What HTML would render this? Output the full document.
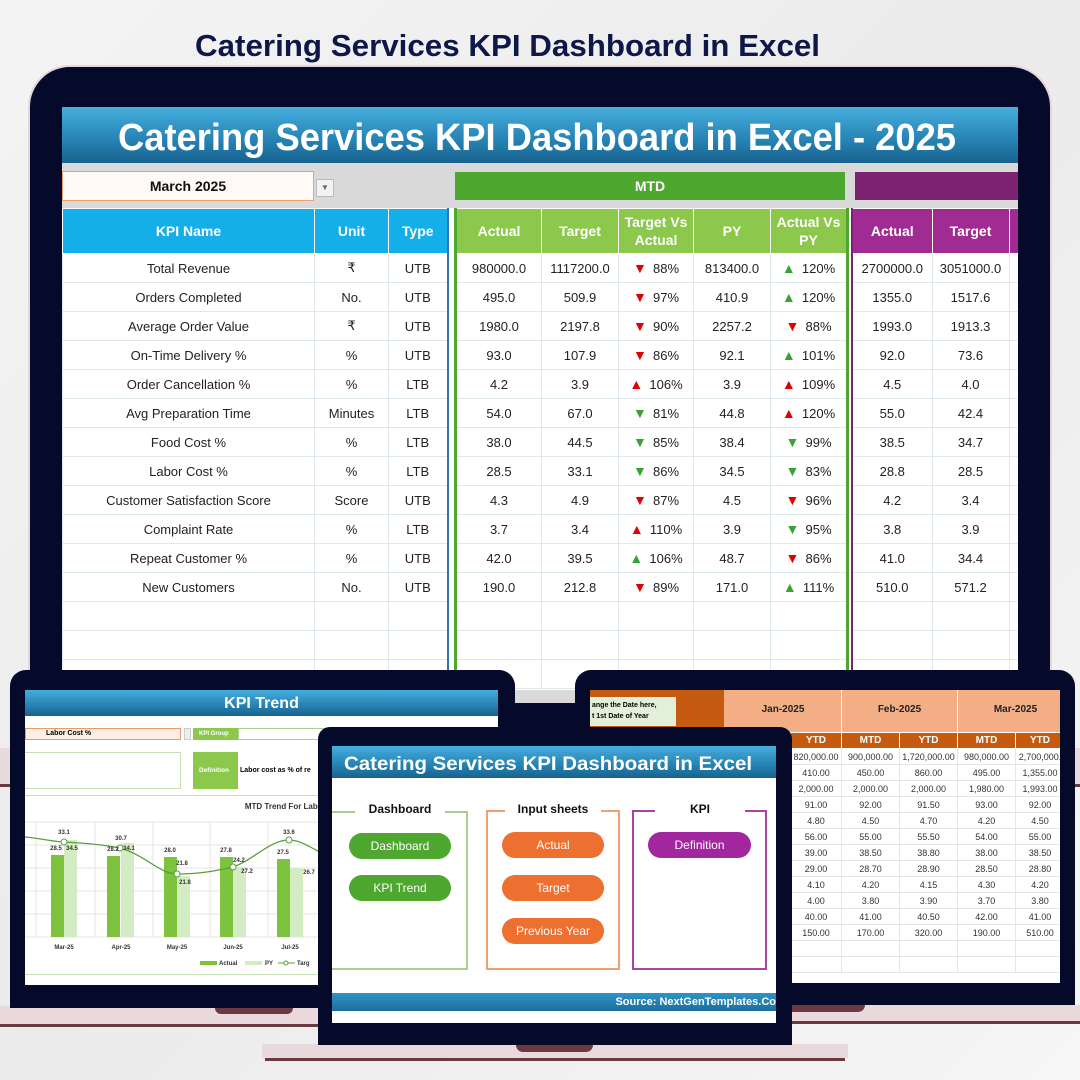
<!DOCTYPE html>
<html><head><meta charset="utf-8">
<style>
*{margin:0;padding:0;box-sizing:border-box}
body{width:1080px;height:1080px;overflow:hidden;background:linear-gradient(135deg,#f4f4f4,#ebebeb 50%,#f6f6f6);font-family:"Liberation Sans",sans-serif;position:relative}
.a{position:absolute}
table{border-collapse:collapse;table-layout:fixed;position:absolute}
td{text-align:center;font-size:13px;color:#222;border:1px solid #dde8ef;height:29px;white-space:nowrap;overflow:hidden}
th{color:#fff;font-size:14px;font-weight:bold;height:45px;border:1px solid #fff;line-height:1.3}
.dn{color:#e00000;font-size:13px}.upg{color:#3aa232}.upr{color:#e00000}
.ar{display:inline-block;width:20px;text-align:left;font-size:14px}
.btn{position:absolute;height:26px;border-radius:13px;color:#fff;font-size:12px;text-align:center;line-height:26px}
.rt td{height:16px;font-size:9px;color:#333;border:1px solid #e6e6e6}
</style></head><body>

<!-- top title -->
<svg class="a" style="left:0;top:0" width="1080" height="70"><text x="195" y="56" textLength="625" lengthAdjust="spacingAndGlyphs" font-family="Liberation Sans Narrow, Liberation Sans, sans-serif" font-weight="bold" font-size="31" fill="#0d1848">Catering Services KPI Dashboard in Excel</text></svg>

<!-- main monitor base band -->
<div class="a" style="left:0;top:748px;width:1080px;height:36px;background:#e9dadd"></div>
<div class="a" style="left:0;top:784px;width:1080px;height:3px;background:#6b3a40"></div>

<!-- main monitor -->
<div class="a" style="left:28px;top:65px;width:1024px;height:690px;border-radius:42px;background:#050a2b;border:2px solid #e6d6da"></div>
<div class="a" style="left:62px;top:107px;width:956px;height:596px;background:#d9d9d9"></div>
<div class="a" style="left:62px;top:107px;width:956px;height:56px;background:linear-gradient(#45aedc,#2682b3 60%,#18628e)"></div>
<svg class="a" style="left:62px;top:107px" width="956" height="56"><text x="56" y="43" textLength="838" lengthAdjust="spacingAndGlyphs" font-family="Liberation Sans, sans-serif" font-weight="bold" font-size="38" fill="#fff">Catering Services KPI Dashboard in Excel - 2025</text></svg>
<div class="a" style="left:62px;top:171px;width:252px;height:30px;background:#fffaf6;border:1px solid #f0a070;font-weight:bold;font-size:14px;text-align:center;line-height:28px;color:#111">March 2025</div>
<div class="a" style="left:316px;top:179px;width:18px;height:18px;background:#f2f2f2;border:1px solid #bbb;font-size:8px;text-align:center;line-height:16px;color:#666">▼</div>
<div class="a" style="left:455px;top:172px;width:390px;height:28px;background:#4ea72e;color:#fff;font-weight:bold;font-size:14px;text-align:center;line-height:28px">MTD</div>
<div class="a" style="left:855px;top:172px;width:163px;height:28px;background:#7b2270"></div>

<!-- white table area -->
<div class="a" style="left:62px;top:208px;width:956px;height:482px;background:#fff"></div>

<table style="left:62px;top:208px;width:385px;border-right:2px solid #2e75b6">
<colgroup><col style="width:252px"><col style="width:74px"><col style="width:59px"></colgroup>
<tr style="background:#14aee8"><th>KPI Name</th><th>Unit</th><th>Type</th></tr>
<tr><td>Total Revenue</td><td>₹</td><td>UTB</td></tr>
<tr><td>Orders Completed</td><td>No.</td><td>UTB</td></tr>
<tr><td>Average Order Value</td><td>₹</td><td>UTB</td></tr>
<tr><td>On-Time Delivery %</td><td>%</td><td>UTB</td></tr>
<tr><td>Order Cancellation %</td><td>%</td><td>LTB</td></tr>
<tr><td>Avg Preparation Time</td><td>Minutes</td><td>LTB</td></tr>
<tr><td>Food Cost %</td><td>%</td><td>LTB</td></tr>
<tr><td>Labor Cost %</td><td>%</td><td>LTB</td></tr>
<tr><td>Customer Satisfaction Score</td><td>Score</td><td>UTB</td></tr>
<tr><td>Complaint Rate</td><td>%</td><td>LTB</td></tr>
<tr><td>Repeat Customer %</td><td>%</td><td>UTB</td></tr>
<tr><td>New Customers</td><td>No.</td><td>UTB</td></tr>
<tr><td></td><td></td><td></td></tr><tr><td></td><td></td><td></td></tr><tr><td></td><td></td><td></td></tr>
</table>

<table style="left:454px;top:208px;width:392px;border-left:3px solid #4ea72e;border-right:3px solid #4ea72e">
<colgroup><col style="width:86px"><col style="width:77px"><col style="width:75px"><col style="width:77px"><col style="width:77px"></colgroup>
<tr style="background:#8cc84b"><th>Actual</th><th>Target</th><th>Target Vs<br>Actual</th><th>PY</th><th>Actual Vs<br>PY</th></tr>
<tr><td>980000.0</td><td>1117200.0</td><td><span class="ar upr">▼</span>88%</td><td>813400.0</td><td><span class="ar upg">▲</span>120%</td></tr>
<tr><td>495.0</td><td>509.9</td><td><span class="ar upr">▼</span>97%</td><td>410.9</td><td><span class="ar upg">▲</span>120%</td></tr>
<tr><td>1980.0</td><td>2197.8</td><td><span class="ar upr">▼</span>90%</td><td>2257.2</td><td><span class="ar upr">▼</span>88%</td></tr>
<tr><td>93.0</td><td>107.9</td><td><span class="ar upr">▼</span>86%</td><td>92.1</td><td><span class="ar upg">▲</span>101%</td></tr>
<tr><td>4.2</td><td>3.9</td><td><span class="ar upr">▲</span>106%</td><td>3.9</td><td><span class="ar upr">▲</span>109%</td></tr>
<tr><td>54.0</td><td>67.0</td><td><span class="ar upg">▼</span>81%</td><td>44.8</td><td><span class="ar upr">▲</span>120%</td></tr>
<tr><td>38.0</td><td>44.5</td><td><span class="ar upg">▼</span>85%</td><td>38.4</td><td><span class="ar upg">▼</span>99%</td></tr>
<tr><td>28.5</td><td>33.1</td><td><span class="ar upg">▼</span>86%</td><td>34.5</td><td><span class="ar upg">▼</span>83%</td></tr>
<tr><td>4.3</td><td>4.9</td><td><span class="ar upr">▼</span>87%</td><td>4.5</td><td><span class="ar upr">▼</span>96%</td></tr>
<tr><td>3.7</td><td>3.4</td><td><span class="ar upr">▲</span>110%</td><td>3.9</td><td><span class="ar upg">▼</span>95%</td></tr>
<tr><td>42.0</td><td>39.5</td><td><span class="ar upg">▲</span>106%</td><td>48.7</td><td><span class="ar upr">▼</span>86%</td></tr>
<tr><td>190.0</td><td>212.8</td><td><span class="ar upr">▼</span>89%</td><td>171.0</td><td><span class="ar upg">▲</span>111%</td></tr>
<tr><td></td><td></td><td></td><td></td><td></td></tr><tr><td></td><td></td><td></td><td></td><td></td></tr><tr><td></td><td></td><td></td><td></td><td></td></tr>
</table>

<div class="a" style="left:851px;top:208px;width:167px;height:482px;overflow:hidden">
<table style="left:0;top:0;width:240px;border-left:2px solid #7b2270">
<colgroup><col style="width:80px"><col style="width:77px"><col style="width:83px"></colgroup>
<tr style="background:#a02b93"><th>Actual</th><th>Target</th><th>A</th></tr>
<tr><td>2700000.0</td><td>3051000.0</td><td></td></tr>
<tr><td>1355.0</td><td>1517.6</td><td></td></tr>
<tr><td>1993.0</td><td>1913.3</td><td></td></tr>
<tr><td>92.0</td><td>73.6</td><td></td></tr>
<tr><td>4.5</td><td>4.0</td><td></td></tr>
<tr><td>55.0</td><td>42.4</td><td></td></tr>
<tr><td>38.5</td><td>34.7</td><td></td></tr>
<tr><td>28.8</td><td>28.5</td><td></td></tr>
<tr><td>4.2</td><td>3.4</td><td></td></tr>
<tr><td>3.8</td><td>3.9</td><td></td></tr>
<tr><td>41.0</td><td>34.4</td><td></td></tr>
<tr><td>510.0</td><td>571.2</td><td></td></tr>
<tr><td></td><td></td><td></td></tr><tr><td></td><td></td><td></td></tr><tr><td></td><td></td><td></td></tr>
</table></div>

<!-- LEFT LAPTOP -->
<div class="a" style="left:0;top:1006px;width:560px;height:18px;background:#e9d9dc"></div>
<div class="a" style="left:0;top:1024px;width:560px;height:3px;background:#6b3a40"></div>
<div class="a" style="left:215px;top:1006px;width:78px;height:8px;background:#6b3a40;border-radius:0 0 6px 6px"></div>
<div class="a" style="left:10px;top:670px;width:505px;height:338px;background:#050a2b;border-radius:16px 16px 0 0"></div>
<div class="a" style="left:25px;top:690px;width:473px;height:295px;background:#fff"></div>
<div class="a" style="left:25px;top:690px;width:473px;height:26px;background:linear-gradient(#45aedc,#2682b3 60%,#18628e);color:#fff;font-weight:bold;font-size:16px;text-align:center;line-height:27px">KPI Trend</div>
<div class="a" style="left:25px;top:728px;width:156px;height:12px;background:#fdeee4;border:1px solid #e89a6a;font-size:7px;font-weight:bold;line-height:10px;padding-left:20px">Labor Cost %</div>
<div class="a" style="left:184px;top:728px;width:7px;height:12px;background:#eee;border:1px solid #ccc"></div>
<div class="a" style="left:193px;top:728px;width:45px;height:12px;background:#8cc84b;color:#fff;font-size:6px;font-weight:bold;line-height:12px;padding-left:6px">KPI Group</div>
<div class="a" style="left:238px;top:728px;width:90px;height:12px;border:1px solid #a9d08e"></div>
<div class="a" style="left:25px;top:752px;width:156px;height:37px;border:1px solid #c6e0b4;border-left:none"></div>
<div class="a" style="left:193px;top:752px;width:45px;height:37px;background:#8cc84b;color:#fff;font-size:6.5px;font-weight:bold;line-height:37px;padding-left:6px">Definition</div>
<div class="a" style="left:240px;top:752px;width:90px;height:37px;font-size:7px;font-weight:bold;line-height:37px;white-space:nowrap;overflow:hidden">Labor cost as % of re</div>
<div class="a" style="left:25px;top:795px;width:473px;height:180px;border-top:1px solid #c6e0b4;border-bottom:1px solid #c6e0b4"></div>
<svg class="a" style="left:25px;top:795px" width="300" height="180" font-family="Liberation Sans, sans-serif">
<text x="275" y="14" text-anchor="middle" font-size="8" font-weight="bold" fill="#333">MTD Trend For Labor Cost %</text>
<g stroke="#e6e6e6" stroke-width="1">
<line x1="0" y1="27" x2="300" y2="27"/><line x1="0" y1="50" x2="300" y2="50"/><line x1="0" y1="73" x2="300" y2="73"/><line x1="0" y1="96" x2="300" y2="96"/><line x1="0" y1="119" x2="300" y2="119"/><line x1="0" y1="142" x2="300" y2="142"/>
<line x1="11" y1="27" x2="11" y2="142"/><line x1="70" y1="27" x2="70" y2="142"/><line x1="128" y1="27" x2="128" y2="142"/><line x1="185" y1="27" x2="185" y2="142"/><line x1="243" y1="27" x2="243" y2="142"/>
</g>
<g fill="#7dc33e"><rect x="26" y="60" width="13" height="82"/><rect x="82" y="61" width="13" height="81"/><rect x="139" y="62" width="13" height="80"/><rect x="195" y="62" width="13" height="80"/><rect x="252" y="64" width="13" height="78"/></g>
<g fill="#d4ecc4"><rect x="39" y="45" width="13" height="97"/><rect x="96" y="48" width="13" height="94"/><rect x="152" y="81" width="13" height="61"/><rect x="208" y="72" width="13" height="70"/><rect x="265" y="73" width="13" height="69"/></g>
<path d="M0 42 C20 44,30 47,39 47 C60 48,80 50,95 53 C120 60,135 79,152 79 C175 79,190 76,208 72 C230 64,245 45,264 45 C275 45,285 52,300 60" fill="none" stroke="#5a9e3a" stroke-width="1.3"/>
<g fill="#fff" stroke="#5a9e3a" stroke-width="1"><circle cx="39" cy="47" r="3"/><circle cx="95" cy="53" r="3"/><circle cx="152" cy="79" r="3"/><circle cx="208" cy="72" r="3"/><circle cx="264" cy="45" r="3"/></g>
<g font-size="6" fill="#333" text-anchor="middle" font-weight="bold">
<text x="39" y="39">33.1</text><text x="31" y="55">28.5</text><text x="47" y="55">34.5</text>
<text x="96" y="45">30.7</text><text x="88" y="56">28.2</text><text x="104" y="55">34.1</text>
<text x="145" y="57">28.0</text><text x="157" y="70">21.8</text><text x="160" y="89">21.8</text>
<text x="201" y="57">27.8</text><text x="214" y="67">24.2</text><text x="222" y="78">27.2</text>
<text x="264" y="39">33.6</text><text x="258" y="59">27.5</text><text x="284" y="79">26.7</text>
<text x="39" y="154">Mar-25</text><text x="96" y="154">Apr-25</text><text x="152" y="154">May-25</text><text x="208" y="154">Jun-25</text><text x="265" y="154">Jul-25</text>
</g>
<rect x="175" y="166" width="17" height="4" fill="#7dc33e"/><text x="194" y="170" font-size="6" fill="#333" font-weight="bold">Actual</text>
<rect x="220" y="166" width="17" height="4" fill="#d4ecc4"/><text x="240" y="170" font-size="6" fill="#333" font-weight="bold">PY</text>
<line x1="253" y1="168" x2="270" y2="168" stroke="#5a9e3a"/><circle cx="261" cy="168" r="2" fill="#fff" stroke="#5a9e3a"/><text x="272" y="170" font-size="6" fill="#333" font-weight="bold">Targ</text>
</svg>

<!-- RIGHT LAPTOP -->
<div class="a" style="left:560px;top:1005px;width:520px;height:16px;background:#e9d9dc"></div>
<div class="a" style="left:560px;top:1021px;width:520px;height:3px;background:#6b3a40"></div>
<div class="a" style="left:560px;top:1005px;width:305px;height:7px;background:#6b3a40;border-radius:0 0 8px 0"></div>
<div class="a" style="left:575px;top:670px;width:500px;height:335px;background:#050a2b;border-radius:16px 16px 0 0"></div>
<div class="a" style="left:590px;top:690px;width:470px;height:293px;background:#fff;overflow:hidden">
 <div class="a" style="left:0;top:0;width:470px;height:42px;background:#f4ae86"></div>
 <div class="a" style="left:0;top:0;width:134px;height:42px;background:#c55a11"></div>
 <div class="a" style="left:0;top:7px;width:86px;height:29px;background:#e2f0d9;font-size:7px;font-weight:bold;line-height:11px;padding:3px 0 0 2px;white-space:nowrap;overflow:hidden">ange the Date here,<br>t 1st Date of Year</div>
 <div class="a" style="left:251px;top:0;width:1px;height:58px;background:#fff"></div>
 <div class="a" style="left:367px;top:0;width:1px;height:58px;background:#fff"></div>
 <div class="a" style="left:150px;top:14px;width:86px;text-align:center;font-size:10px;font-weight:bold;color:#222">Jan-2025</div>
 <div class="a" style="left:252px;top:14px;width:115px;text-align:center;font-size:10px;font-weight:bold;color:#222">Feb-2025</div>
 <div class="a" style="left:368px;top:14px;width:115px;text-align:center;font-size:10px;font-weight:bold;color:#222">Mar-2025</div>
 <div class="a" style="left:134px;top:42px;width:336px;height:16px;background:#c55a11"></div>
 <table class="rt" style="left:200px;top:42px;width:274px">
 <colgroup><col style="width:51px"><col style="width:58px"><col style="width:58px"><col style="width:58px"><col style="width:49px"></colgroup>
 <tr style="background:#c55a11;color:#fff;font-weight:bold"><td style="color:#fff;font-size:10px;font-weight:bold;border-color:#fff">YTD</td><td style="color:#fff;font-size:10px;font-weight:bold;border-color:#fff">MTD</td><td style="color:#fff;font-size:10px;font-weight:bold;border-color:#fff">YTD</td><td style="color:#fff;font-size:10px;font-weight:bold;border-color:#fff">MTD</td><td style="color:#fff;font-size:10px;font-weight:bold;border-color:#fff">YTD</td></tr>
 <tr><td>820,000.00</td><td>900,000.00</td><td>1,720,000.00</td><td>980,000.00</td><td>2,700,000.</td></tr>
 <tr><td>410.00</td><td>450.00</td><td>860.00</td><td>495.00</td><td>1,355.00</td></tr>
 <tr><td>2,000.00</td><td>2,000.00</td><td>2,000.00</td><td>1,980.00</td><td>1,993.00</td></tr>
 <tr><td>91.00</td><td>92.00</td><td>91.50</td><td>93.00</td><td>92.00</td></tr>
 <tr><td>4.80</td><td>4.50</td><td>4.70</td><td>4.20</td><td>4.50</td></tr>
 <tr><td>56.00</td><td>55.00</td><td>55.50</td><td>54.00</td><td>55.00</td></tr>
 <tr><td>39.00</td><td>38.50</td><td>38.80</td><td>38.00</td><td>38.50</td></tr>
 <tr><td>29.00</td><td>28.70</td><td>28.90</td><td>28.50</td><td>28.80</td></tr>
 <tr><td>4.10</td><td>4.20</td><td>4.15</td><td>4.30</td><td>4.20</td></tr>
 <tr><td>4.00</td><td>3.80</td><td>3.90</td><td>3.70</td><td>3.80</td></tr>
 <tr><td>40.00</td><td>41.00</td><td>40.50</td><td>42.00</td><td>41.00</td></tr>
 <tr><td>150.00</td><td>170.00</td><td>320.00</td><td>190.00</td><td>510.00</td></tr>
 <tr><td></td><td></td><td></td><td></td><td></td></tr><tr><td></td><td></td><td></td><td></td><td></td></tr>
 </table>
</div>

<!-- FRONT LAPTOP -->
<div class="a" style="left:262px;top:1044px;width:586px;height:14px;background:#e9d9dc"></div>
<div class="a" style="left:265px;top:1058px;width:580px;height:3px;background:#6b3a40"></div>
<div class="a" style="left:516px;top:1044px;width:77px;height:8px;background:#6b3a40;border-radius:0 0 7px 7px"></div>
<div class="a" style="left:318px;top:727px;width:474px;height:318px;background:#050a2b;border-radius:12px 12px 0 0"></div>
<div class="a" style="left:332px;top:746px;width:444px;height:277px;background:#fff"></div>
<div class="a" style="left:332px;top:746px;width:444px;height:32px;background:linear-gradient(#45aedc,#2682b3 60%,#18628e)"></div>
<svg class="a" style="left:332px;top:746px" width="444" height="32"><text x="12" y="24" textLength="408" lengthAdjust="spacingAndGlyphs" font-family="Liberation Sans, sans-serif" font-weight="bold" font-size="19" fill="#fff">Catering Services KPI Dashboard in Excel</text></svg>
<div class="a" style="left:332px;top:993px;width:444px;height:18px;background:linear-gradient(#2f93c7,#1b6e9c);color:#fff;font-size:11px;font-weight:bold;line-height:18px;text-align:right;white-space:nowrap;overflow:hidden;padding-right:0">Source: NextGenTemplates.Co</div>
<!-- boxes -->
<div class="a" style="left:332px;top:811px;width:136px;height:159px;border:2px solid #a9d08e;border-left:none"></div>
<div class="a" style="left:355px;top:802px;width:90px;height:16px;background:#fff;font-size:12px;font-weight:bold;text-align:center;color:#111">Dashboard</div>
<div class="a" style="left:486px;top:810px;width:134px;height:160px;border:2px solid #f0a070"></div>
<div class="a" style="left:505px;top:802px;width:96px;height:16px;background:#fff;font-size:12px;font-weight:bold;text-align:center;color:#111">Input sheets</div>
<div class="a" style="left:632px;top:810px;width:135px;height:160px;border:2px solid #a645a4"></div>
<div class="a" style="left:655px;top:802px;width:90px;height:16px;background:#fff;font-size:12px;font-weight:bold;text-align:center;color:#111">KPI</div>
<div class="btn" style="left:349px;top:833px;width:102px;background:#4ea72e">Dashboard</div>
<div class="btn" style="left:349px;top:875px;width:102px;background:#4ea72e">KPI Trend</div>
<div class="btn" style="left:502px;top:832px;width:102px;background:#ed7030">Actual</div>
<div class="btn" style="left:502px;top:875px;width:102px;background:#ed7030">Target</div>
<div class="btn" style="left:502px;top:918px;width:102px;background:#ed7030">Previous Year</div>
<div class="btn" style="left:648px;top:832px;width:103px;background:#a2279f">Definition</div>
</body></html>
